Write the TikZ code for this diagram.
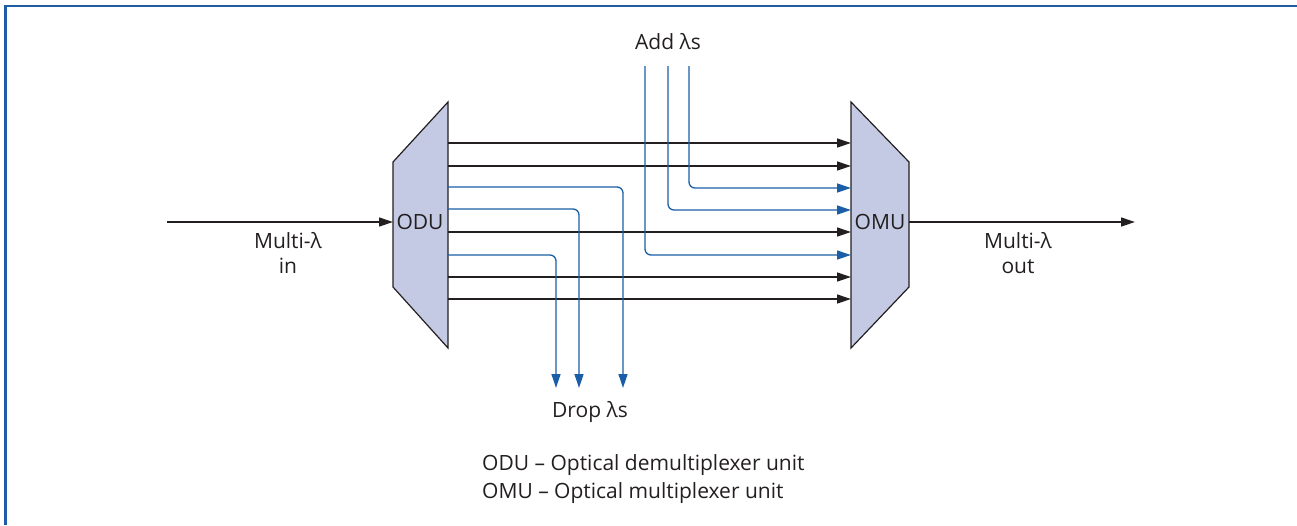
\documentclass[tikz,border=0pt]{standalone}
\usepackage{fontspec}
\setmainfont{Open Sans}
\usetikzlibrary{arrows.meta}
\definecolor{frameblue}{HTML}{1F5CA6}
\definecolor{lineblue}{HTML}{1A5EA8}
\definecolor{boxfill}{HTML}{C5CAE4}
\definecolor{ink}{HTML}{231F20}
\tikzset{
  blk/.style={draw=ink, line width=1.3pt, -{Triangle[length=14pt,width=9pt]}},
  blu/.style={draw=lineblue, line width=1.3pt, rounded corners=6pt, -{Triangle[length=14pt,width=9pt]}},
  unit/.style={draw=ink, line width=1.2pt, fill=boxfill},
  lbl/.style={font=\fontsize{21}{25}\selectfont, text=ink, inner sep=0pt},
}
\begin{document}
\begin{tikzpicture}[x=1pt,y=-1pt]
\useasboundingbox (0,0) rectangle (1297,525);
\draw[frameblue, line width=2.6pt] (5.5,525) -- (5.5,6) -- (1297,6);

% units
\draw[unit] (393,162) -- (448,102) -- (448,348) -- (393,287) -- cycle;
\draw[unit] (851,102) -- (909,162) -- (909,287) -- (851,348) -- cycle;
\coordinate (oduL) at (393,222);
\coordinate (oduR) at (448,222);
\coordinate (omuL) at (851,222);
\coordinate (omuR) at (909,222);
\node[lbl] (odu) at (420,222) {ODU};
\node[lbl] (omu) at (880,222) {OMU};

% in / out
\coordinate (inS) at (167,222);
\coordinate (outE) at (1135,222);
\draw[blk] (inS) -- (oduL);
\draw[blk] (omuR) -- (outE);
\node[lbl, align=center] (inlbl) at (288,253) {Multi-λ\\in};
\node[lbl, align=center] (outlbl) at (1018,253) {Multi-λ\\out};

% through channels
\foreach \y in {143,166,232,277,299}
  \draw[blk] (oduR |- 0,\y) -- (omuL |- 0,\y);

% drop channels
\coordinate (d1) at (623,388);
\coordinate (d2) at (579,388);
\coordinate (d3) at (556,388);
\draw[blu] (oduR |- 0,187) -| (d1);
\draw[blu] (oduR |- 0,209) -| (d2);
\draw[blu] (oduR |- 0,255) -| (d3);
\node[lbl] (drop) at (590,412) {Drop λs};

% add channels
\coordinate (a1) at (689,66);
\coordinate (a2) at (668,66);
\coordinate (a3) at (645,66);
\draw[blu] (a1) |- (omuL |- 0,188);
\draw[blu] (a2) |- (omuL |- 0,210);
\draw[blu] (a3) |- (omuL |- 0,255);
\node[lbl] (add) at (668,42) {Add λs};

% legend
\node[lbl, anchor=west] (leg1) at (482,465) {ODU – Optical demultiplexer unit};
\node[lbl, anchor=west] (leg2) at (482,493) {OMU – Optical multiplexer unit};
\end{tikzpicture}
\end{document}
